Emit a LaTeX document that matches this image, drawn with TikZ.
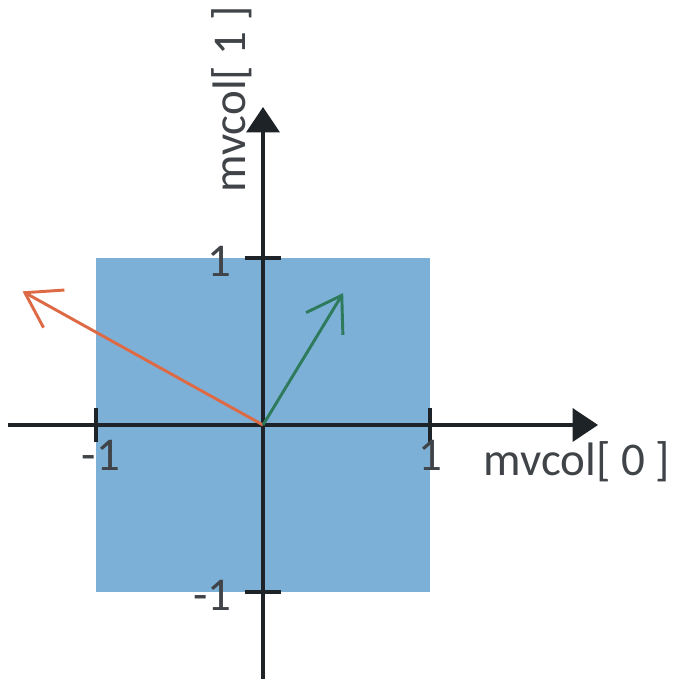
\documentclass[tikz,border=0pt]{standalone}
\usepackage{fontspec}
\setmainfont{Carlito}
\usetikzlibrary{arrows.meta}
\definecolor{boxblue}{HTML}{7DB0D6}
\definecolor{vecred}{HTML}{DD6A45}
\definecolor{vecgreen}{HTML}{2E7A5C}
\definecolor{axisgray}{HTML}{1E2328}
\tikzset{
  axis/.style={draw=axisgray,line width=0.8pt,-{Triangle[length=6.5pt,width=8.5pt]}},
  tick/.style={draw=axisgray,line width=0.8pt},
  vec/.style={line width=0.75pt,-{Straight Barb[length=8.5pt,width=11pt,line width=0.75pt]}},
  lbl/.style={font=\fontsize{12}{14}\selectfont,text=axisgray!85,inner sep=1pt}
}
\begin{document}
\begin{tikzpicture}[x=1.5cm,y=1.5cm]
  \useasboundingbox (-1.575,-1.521) rectangle (2.533,2.545);
  \fill[boxblue] (-1,-1) rectangle (1,1);
  % axes
  \coordinate (O) at (0,0);
  \coordinate (xs) at (-1.527,0);
  \coordinate (xe) at (2.006,0);
  \coordinate (ys) at (0,-1.53);
  \coordinate (ye) at (0,1.904);
  \draw[axis] (xs) -- (xe);
  \draw[axis] (ys) -- (ye);
  % ticks
  \draw[tick] (-1,-0.1) -- (-1,0.1);
  \draw[tick] (1,-0.1) -- (1,0.1);
  \draw[tick] (-0.11,1) -- (0.11,1);
  \draw[tick] (-0.11,-1) -- (0.11,-1);
  \node[lbl] (xm1) at (-0.97,-0.18) {-1};
  \node[lbl] (xp1) at (1.0,-0.18) {1};
  \node[lbl,anchor=east] (yp1) at (-0.16,0.98) {1};
  \node[lbl,anchor=east] (ym1) at (-0.16,-1.02) {-1};
  \node[lbl] (xlab) at (1.88,-0.22) {mvcol[ 0 ]};
  \node[lbl,rotate=90] (ylab) at (-0.19,1.95) {mvcol[ 1 ]};
  % vectors
  \coordinate (r) at (-1.44,0.80);
  \coordinate (g) at (0.48,0.79);
  \draw[vec,vecred] (O) -- (r);
  \draw[vec,vecgreen] (O) -- (g);
\end{tikzpicture}
\end{document}
